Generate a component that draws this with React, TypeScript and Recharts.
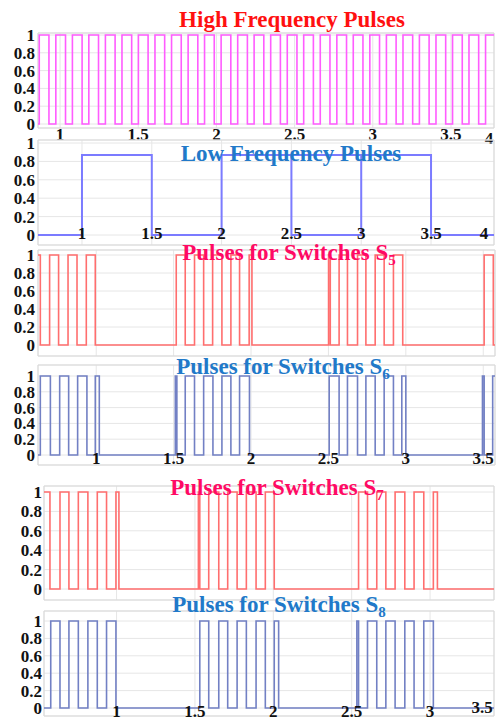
import React from "react";
import { LineChart, Line, XAxis, YAxis, CartesianGrid, ReferenceArea, Label } from "recharts";

// pulse intervals [on, off] in seconds, per trace
const hfPulses: [number, number][] = [
  [0.867, 0.929], [0.973, 1.035], [1.079, 1.141], [1.184, 1.246], [1.29, 1.352],
  [1.396, 1.458], [1.501, 1.563], [1.607, 1.669], [1.713, 1.775], [1.819, 1.881],
  [1.924, 1.986], [2.03, 2.092], [2.136, 2.198], [2.241, 2.303], [2.347, 2.409],
  [2.453, 2.515], [2.558, 2.62], [2.664, 2.726], [2.77, 2.832], [2.875, 2.937],
  [2.981, 3.043], [3.087, 3.149], [3.193, 3.255], [3.298, 3.36], [3.404, 3.466],
  [3.51, 3.572], [3.615, 3.677], [3.721, 3.775],
];
const lfPulses: [number, number][] = [[1, 1.5], [2, 2.5], [3, 3.5]];
const lfHold: [number, number][] = [[2.5, 3]];

const s5Pulses: [number, number][] = [
  [0.624, 0.639], [0.699, 0.757], [0.818, 0.876], [0.936, 0.994],
  [1.517, 1.575], [1.635, 1.694], [1.752, 1.812], [1.87, 1.926], [1.988, 2.006],
  [2.501, 2.512], [2.569, 2.623], [2.688, 2.742], [2.802, 2.86], [2.92, 2.98],
  [3.506, 3.565],
];
const s6Pulses: [number, number][] = [
  [0.639, 0.704], [0.764, 0.822], [0.88, 0.94], [0.994, 1.02],
  [1.511, 1.521], [1.575, 1.635], [1.694, 1.754], [1.812, 1.87], [1.926, 1.99],
  [2.505, 2.569], [2.623, 2.688], [2.742, 2.802], [2.86, 2.92], [2.974, 3.0],
  [3.495, 3.506], [3.561, 3.576],
];
const s7Pulses: [number, number][] = [
  [0.537, 0.575], [0.639, 0.696], [0.756, 0.817], [0.877, 0.936], [0.996, 1.015],
  [1.522, 1.531], [1.588, 1.652], [1.709, 1.769], [1.828, 1.89], [1.949, 2.006],
  [2.544, 2.601], [2.66, 2.718], [2.777, 2.839], [2.898, 2.96], [3.021, 3.047],
];
const s8Pulses: [number, number][] = [
  [0.58, 0.639], [0.696, 0.756], [0.817, 0.877], [0.936, 0.996],
  [1.531, 1.588], [1.652, 1.709], [1.769, 1.828], [1.89, 1.949], [2.006, 2.034],
  [2.533, 2.544], [2.601, 2.66], [2.718, 2.777], [2.839, 2.898], [2.96, 3.021],
];

const HF_LEVEL = 1;
const LF_LEVEL = 0.87;
const SW_LEVEL = 1;

const yTicks = [0, 0.2, 0.4, 0.6, 0.8, 1];
const xTicks = [1, 1.5, 2, 2.5, 3, 3.5];

const W = 499;
const H = 723;
const PAD = 14;
const AXH = 30;
const SERIF = "'Liberation Serif', 'Times New Roman', serif";

type Pt = { t: number; v: number };

// turn [on, off] intervals into stepAfter points across the axis range
function toSteps(pulses: [number, number][], level: number, start: number, end: number): Pt[] {
  const pts: Pt[] = [{ t: start, v: pulses[0][0] <= start ? level : 0 }];
  for (const [on, off] of pulses) {
    if (on > start) pts.push({ t: on, v: level });
    if (off < end) pts.push({ t: off, v: 0 });
  }
  pts.push({ t: end, v: pts[pts.length - 1].v });
  return pts;
}

type Series = { data: Pt[]; color: string; width: number; type?: "stepAfter" | "linear" };

type PanelSpec = {
  top: number;
  bottom: number;
  left: number;
  right: number;
  y1: number; // pixel row of value 1
  y0: number; // pixel row of value 0
  xDomain: [number, number];
  tickLift: number | null;
  labelGap: number;
  endLabel?: { text: string; dx: number; dy: number };
  series: Series[];
};

const tickFont = { fontFamily: SERIF, fontWeight: 700, fontSize: 17, fill: "#111" };

function XTick(props: any) {
  const { x, y, payload, lift } = props;
  if (lift === null) return <g />;
  return (
    <text x={x} y={y + lift} dy="0.35em" textAnchor="middle" style={tickFont}>
      {String(payload.value)}
    </text>
  );
}

function Panel({ spec }: { spec: PanelSpec }) {
  const unit = spec.y0 - spec.y1;
  const hi = 1 + (spec.y1 - spec.top) / unit;
  const lo = -(spec.bottom - spec.y0) / unit;
  const [x0, x1] = spec.xDomain;
  const ticks = xTicks.filter((t) => t >= x0 && t <= x1);
  const end = spec.endLabel;
  return (
    <div style={{ position: "absolute", left: 0, top: spec.top - PAD }}>
      <LineChart
        width={W}
        height={spec.bottom - spec.top + PAD + AXH}
        margin={{ top: PAD, right: W - spec.right, bottom: 0, left: 0 }}
        style={{ overflow: "visible" }}
      >
        <CartesianGrid stroke="#e6e6e6" />
        <ReferenceArea x1={x0} x2={x1} y1={lo} y2={hi} fill="none" stroke="#d9d9d9" />
        <XAxis
          type="number"
          dataKey="t"
          domain={spec.xDomain}
          ticks={ticks}
          interval={0}
          allowDataOverflow
          axisLine={false}
          tickLine={false}
          tickSize={0}
          tickMargin={0}
          height={AXH}
          tick={(p: any) => <XTick {...p} lift={spec.tickLift} />}
        >
          {end && (
            <Label
              content={(p: any) => {
                const vb = p.viewBox;
                return (
                  <text
                    x={vb.x + vb.width - end.dx}
                    y={vb.y + end.dy}
                    dy="0.35em"
                    textAnchor="middle"
                    style={tickFont}
                  >
                    {end.text}
                  </text>
                );
              }}
            />
          )}
        </XAxis>
        <YAxis
          type="number"
          domain={[lo, hi]}
          ticks={yTicks}
          interval={0}
          allowDataOverflow
          width={spec.left}
          axisLine={false}
          tickLine={false}
          tickSize={0}
          tickMargin={spec.labelGap}
          tick={tickFont}
        />
        {spec.series.map((s, i) => (
          <Line
            key={i}
            data={s.data}
            dataKey="v"
            type={s.type ?? "stepAfter"}
            stroke={s.color}
            strokeWidth={s.width}
            dot={false}
            activeDot={false}
            isAnimationActive={false}
          />
        ))}
      </LineChart>
    </div>
  );
}

const HF_DOMAIN: [number, number] = [0.859, 3.775];
const LF_DOMAIN: [number, number] = [0.685, 3.951];
const S56_DOMAIN: [number, number] = [0.624, 3.576];
const S78_DOMAIN: [number, number] = [0.537, 3.408];

const RED_TRACE = "#ff6e6e";
const BLUE_TRACE = "#7280c4";

const panels: PanelSpec[] = [
  {
    top: 33, bottom: 128, left: 38, right: 494, y1: 35, y0: 124,
    xDomain: HF_DOMAIN, tickLift: 6, labelGap: 3,
    endLabel: { text: "4", dx: 5, dy: 10 },
    series: [{ data: toSteps(hfPulses, HF_LEVEL, ...HF_DOMAIN), color: "#ff5cff", width: 1.6 }],
  },
  {
    top: 140, bottom: 245, left: 38, right: 494, y1: 143, y0: 235,
    xDomain: LF_DOMAIN, tickLift: -12, labelGap: 3,
    endLabel: { text: "4", dx: 10, dy: -12 },
    series: [
      { data: toSteps(lfPulses, LF_LEVEL, ...LF_DOMAIN), color: "#7b7bff", width: 2 },
      {
        data: lfHold.flatMap(([a, b]) => [{ t: a, v: LF_LEVEL }, { t: b, v: LF_LEVEL }]),
        color: "#7b7bff",
        width: 2,
        type: "linear",
      },
    ],
  },
  {
    top: 250, bottom: 356, left: 38, right: 495, y1: 255, y0: 345,
    xDomain: S56_DOMAIN, tickLift: null, labelGap: 3,
    series: [{ data: toSteps(s5Pulses, SW_LEVEL, ...S56_DOMAIN), color: RED_TRACE, width: 1.6 }],
  },
  {
    top: 365, bottom: 465, left: 38, right: 495, y1: 376, y0: 455,
    xDomain: S56_DOMAIN, tickLift: -7, labelGap: 3,
    series: [{ data: toSteps(s6Pulses, SW_LEVEL, ...S56_DOMAIN), color: BLUE_TRACE, width: 1.6 }],
  },
  {
    top: 486, bottom: 600, left: 44, right: 494, y1: 492, y0: 589,
    xDomain: S78_DOMAIN, tickLift: null, labelGap: 2,
    series: [{ data: toSteps(s7Pulses, SW_LEVEL, ...S78_DOMAIN), color: RED_TRACE, width: 1.6 }],
  },
  {
    top: 611, bottom: 716, left: 44, right: 494, y1: 621, y0: 708,
    xDomain: S78_DOMAIN, tickLift: -5, labelGap: 2,
    endLabel: { text: "3.5", dx: 12, dy: -9 },
    series: [{ data: toSteps(s8Pulses, SW_LEVEL, ...S78_DOMAIN), color: BLUE_TRACE, width: 1.6 }],
  },
];

const titles = [
  { text: "High Frequency Pulses", sub: "", x: 292, y: 27, color: "#ff1010" },
  { text: "Low Frequency Pulses", sub: "", x: 291, y: 161, color: "#2179c9" },
  { text: "Pulses for Switches S", sub: "5", x: 289, y: 260, color: "#ff0a64" },
  { text: "Pulses for Switches S", sub: "6", x: 283, y: 374, color: "#2179c9" },
  { text: "Pulses for Switches S", sub: "7", x: 277, y: 495, color: "#ff0a64" },
  { text: "Pulses for Switches S", sub: "8", x: 279, y: 612, color: "#2179c9" },
];

export default function App() {
  return (
    <div
      style={{
        position: "absolute",
        left: 0,
        top: 0,
        width: W,
        height: H,
        overflow: "hidden",
        background: "#fff",
      }}
    >
      {panels.map((p, i) => (
        <Panel key={i} spec={p} />
      ))}
      <svg width={W} height={H} style={{ position: "absolute", left: 0, top: 0, pointerEvents: "none" }}>
        {titles.map((t, i) => (
          <text
            key={i}
            x={t.x}
            y={t.y}
            textAnchor="middle"
            fill={t.color}
            style={{ fontFamily: SERIF, fontWeight: 700, fontSize: 23 }}
          >
            {t.text}
            {t.sub && (
              <tspan fontSize={15} dy={5}>
                {t.sub}
              </tspan>
            )}
          </text>
        ))}
      </svg>
    </div>
  );
}
